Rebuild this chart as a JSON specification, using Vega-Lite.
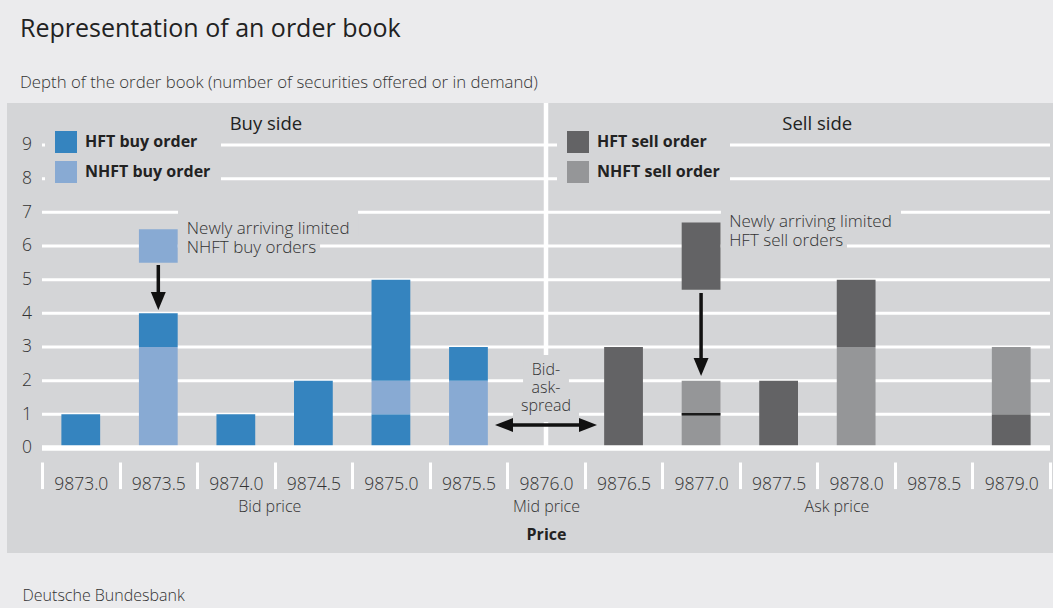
{
  "$schema": "https://vega.github.io/schema/vega-lite/v6.json",
  "width": 1046,
  "height": 450,
  "autosize": "none",
  "padding": {"left": 7, "top": 103, "right": 0, "bottom": 55},
  "background": "#ebebed",
  "config": {"view": {"fill": "#d4d5d7", "stroke": null}, "font": "Open Sans"},
  "title": {
    "text": "Representation of an order book",
    "subtitle": "Depth of the order book (number of securities offered or in demand)",
    "anchor": "start",
    "frame": "group",
    "offset": 8.5,
    "dx": 13,
    "font": "Open Sans",
    "fontSize": 25,
    "fontWeight": "normal",
    "color": "#222222",
    "subtitleFont": "Open Sans",
    "subtitleFontSize": 16.8,
    "subtitleFontWeight": 300,
    "subtitleColor": "#333333",
    "subtitlePadding": 33
  },
  "datasets": {
    "levels": [{"level": 0}, {"level": 1}, {"level": 2}, {"level": 3}, {"level": 4}, {"level": 5}, {"level": 6}, {"level": 7}, {"level": 8}, {"level": 9}],
    "book": [
      {"price": 9873.0, "side": "buy", "type": "HFT buy order", "qty": 1, "seq": 1},
      {"price": 9873.5, "side": "buy", "type": "NHFT buy order", "qty": 3, "seq": 1},
      {"price": 9873.5, "side": "buy", "type": "HFT buy order", "qty": 1, "seq": 2},
      {"price": 9874.0, "side": "buy", "type": "HFT buy order", "qty": 1, "seq": 1},
      {"price": 9874.5, "side": "buy", "type": "HFT buy order", "qty": 2, "seq": 1},
      {"price": 9875.0, "side": "buy", "type": "HFT buy order", "qty": 1, "seq": 1},
      {"price": 9875.0, "side": "buy", "type": "NHFT buy order", "qty": 1, "seq": 2},
      {"price": 9875.0, "side": "buy", "type": "HFT buy order", "qty": 3, "seq": 3},
      {"price": 9875.5, "side": "buy", "type": "NHFT buy order", "qty": 2, "seq": 1},
      {"price": 9875.5, "side": "buy", "type": "HFT buy order", "qty": 1, "seq": 2},
      {"price": 9876.5, "side": "sell", "type": "HFT sell order", "qty": 3, "seq": 1},
      {"price": 9877.0, "side": "sell", "type": "NHFT sell order", "qty": 1, "seq": 1},
      {"price": 9877.0, "side": "sell", "type": "NHFT sell order", "qty": 1, "seq": 2},
      {"price": 9877.5, "side": "sell", "type": "HFT sell order", "qty": 2, "seq": 1},
      {"price": 9878.0, "side": "sell", "type": "NHFT sell order", "qty": 3, "seq": 1},
      {"price": 9878.0, "side": "sell", "type": "HFT sell order", "qty": 2, "seq": 2},
      {"price": 9879.0, "side": "sell", "type": "HFT sell order", "qty": 1, "seq": 1},
      {"price": 9879.0, "side": "sell", "type": "NHFT sell order", "qty": 2, "seq": 2}
    ],
    "arriving": [
      {"price": 9873.5, "side": "buy", "type": "NHFT buy order", "from": 5.5, "to": 6.5},
      {"price": 9877.0, "side": "sell", "type": "HFT sell order", "from": 4.7, "to": 6.7}
    ],
    "boundaries": [{"price": 9877.0, "level": 1}],
    "mid": [{"price": 9876.0}],
    "masks": [
      {"x1": 9873.627, "x2": 9874.788, "y1": 7.129, "y2": 6.282},
      {"x1": 9873.627, "x2": 9874.543, "y1": 6.282, "y2": 5.644},
      {"x1": 9877.128, "x2": 9878.289, "y1": 7.218, "y2": 6.297},
      {"x1": 9877.128, "x2": 9877.941, "y1": 6.297, "y2": 5.673},
      {"x1": 9875.852, "x2": 9876.148, "y1": 2.762, "y2": 1.515},
      {"x1": 9875.787, "x2": 9876.213, "y1": 1.515, "y2": 0.772}
    ],
    "shafts": [
      {"x1": 9873.5, "x2": 9873.5, "y1": 5.436, "y2": 4.574},
      {"x1": 9877.0, "x2": 9877.0, "y1": 4.604, "y2": 2.614},
      {"x1": 9875.774, "x2": 9876.226, "y1": 0.683, "y2": 0.683}
    ],
    "heads": [
      {"x": 9873.5, "y": 4.099, "dir": "down"},
      {"x": 9877.0, "y": 2.139, "dir": "down"},
      {"x": 9875.671, "y": 0.683, "dir": "left"},
      {"x": 9876.329, "y": 0.683, "dir": "right"}
    ],
    "notes": [
      {"text": "Newly arriving limited\nNHFT buy orders", "x": 9873.684, "y": 6.347},
      {"text": "Newly arriving limited\nHFT sell orders", "x": 9877.181, "y": 6.573}
    ],
    "spread": [
      {"text": "Bid-\nask-\nspread", "x": 9876.0, "y": 2.168}
    ],
    "sides": [
      {"text": "Buy side", "x": 9874.194, "y": 9.445},
      {"text": "Sell side", "x": 9877.749, "y": 9.445}
    ]
  },
  "resolve": {"scale": {"color": "independent"}, "axis": {"x": "independent"}},
  "layer": [
    {
      "data": {"name": "levels"},
      "transform": [{"filter": "datum.level > 0"}],
      "mark": {"type": "rule", "color": "#ffffff", "strokeWidth": 3},
      "encoding": {
        "y": {"field": "level", "type": "quantitative", "scale": {"domain": [-3.1188, 10.2474], "nice": false, "zero": false},
          "axis": {"orient": "left", "offset": -35, "values": [0, 1, 2, 3, 4, 5, 6, 7, 8, 9], "domain": false, "ticks": false, "grid": false, "labelPadding": 10.5, "labelFont": "Open Sans", "labelFontSize": 17.5, "labelFontWeight": 300, "labelColor": "#333333", "labelOverlap": false, "labelFlush": false, "labelBound": false, "title": null}},
        "x": {"datum": 9872.75, "type": "quantitative", "scale": {"domain": [9872.52431, 9879.26935], "nice": false, "zero": false, "padding": 0}, "axis": null},
        "x2": {"datum": 9879.25}
      }
    },
    {
      "data": {"name": "mid"},
      "mark": {"type": "rule", "color": "#ffffff", "strokeWidth": 4.5},
      "encoding": {
        "x": {"field": "price", "type": "quantitative", "scale": {"domain": [9872.52431, 9879.26935], "nice": false, "zero": false, "padding": 0},
          "axis": {"orient": "bottom", "offset": -45, "values": [9874.216, 9876.0, 9877.873], "labelExpr": "datum.value < 9875 ? 'Bid price' : datum.value < 9877 ? 'Mid price' : 'Ask price'", "ticks": false, "domain": false, "grid": false, "labelPadding": 3.5, "labelBaseline": "alphabetic", "labelAlign": "center", "labelFont": "Open Sans", "labelFontSize": 16, "labelFontWeight": 300, "labelColor": "#333333", "labelFlush": false, "labelOverlap": false, "labelBound": false,
            "title": "Deutsche Bundesbank", "titleX": 15, "titleY": 92.5, "titleAlign": "left", "titleBaseline": "alphabetic", "titleFont": "Open Sans", "titleFontSize": 16, "titleFontWeight": 300, "titleColor": "#333333"}},
        "y": {"datum": 0, "type": "quantitative", "scale": {"domain": [-3.1188, 10.2474], "nice": false, "zero": false}},
        "y2": {"datum": 10.2474}
      }
    },
    {
      "data": {"name": "masks"},
      "mark": {"type": "rect", "color": "#d4d5d7"},
      "encoding": {
        "x": {"field": "x1", "type": "quantitative", "scale": {"domain": [9872.52431, 9879.26935], "nice": false, "zero": false, "padding": 0}, "axis": null},
        "x2": {"field": "x2"},
        "y": {"field": "y1", "type": "quantitative", "scale": {"domain": [-3.1188, 10.2474], "nice": false, "zero": false}},
        "y2": {"field": "y2"}
      }
    },
    {
      "data": {"name": "book"},
      "transform": [{"filter": "datum.side === 'buy'"}],
      "mark": {"type": "bar", "width": 38.77, "orient": "vertical"},
      "encoding": {
        "x": {"field": "price", "type": "quantitative", "scale": {"domain": [9872.52431, 9879.26935], "nice": false, "zero": false, "padding": 0},
          "axis": {"orient": "bottom", "offset": -91, "values": [9872.75, 9873.25, 9873.75, 9874.25, 9874.75, 9875.25, 9875.75, 9876.25, 9876.75, 9877.25, 9877.75, 9878.25, 9878.75, 9879.25], "labelExpr": "datum.value < 9879 ? format(datum.value + 0.25, '.1f') : ''", "labelOffset": 38.77, "tickSize": 26.6, "tickWidth": 3, "tickColor": "#ffffff", "domain": false, "grid": false, "labelPadding": 0.7, "labelBaseline": "alphabetic", "labelAlign": "center", "labelFont": "Open Sans", "labelFontSize": 17.5, "labelFontWeight": 300, "labelColor": "#333333", "labelFlush": false, "labelOverlap": false, "labelBound": false,
            "title": "Price", "titleX": 539, "titleY": 77.5, "titleAlign": "center", "titleBaseline": "alphabetic", "titleFont": "Open Sans", "titleFontSize": 16, "titleFontWeight": "bold", "titleColor": "#222222"}},
        "y": {"field": "qty", "type": "quantitative", "stack": "zero", "scale": {"domain": [-3.1188, 10.2474], "nice": false, "zero": false}},
        "color": {"field": "type", "type": "nominal", "scale": {"domain": ["HFT buy order", "NHFT buy order"], "range": ["#3584bf", "#88aad3"]},
          "legend": {"orient": "none", "legendX": 38, "legendY": 18, "direction": "vertical", "title": null, "padding": 10, "fillColor": "#d4d5d7", "symbolType": "square", "symbolSize": 484, "symbolStrokeWidth": 0, "symbolOpacity": 1, "labelFont": "Open Sans", "labelFontSize": 16, "labelFontWeight": "bold", "labelColor": "#222222", "labelOffset": 8, "rowPadding": 8, "labelLimit": 300}},
        "order": {"field": "seq", "type": "quantitative"}
      }
    },
    {
      "data": {"name": "book"},
      "transform": [{"filter": "datum.side === 'sell'"}],
      "mark": {"type": "bar", "width": 38.77, "orient": "vertical"},
      "encoding": {
        "x": {"field": "price", "type": "quantitative", "scale": {"domain": [9872.52431, 9879.26935], "nice": false, "zero": false, "padding": 0}, "axis": null},
        "y": {"field": "qty", "type": "quantitative", "stack": "zero", "scale": {"domain": [-3.1188, 10.2474], "nice": false, "zero": false}},
        "color": {"field": "type", "type": "nominal", "scale": {"domain": ["HFT sell order", "NHFT sell order"], "range": ["#636365", "#959698"]},
          "legend": {"orient": "none", "legendX": 550, "legendY": 18, "direction": "vertical", "title": null, "padding": 10, "fillColor": "#d4d5d7", "symbolType": "square", "symbolSize": 484, "symbolStrokeWidth": 0, "symbolOpacity": 1, "labelFont": "Open Sans", "labelFontSize": 16, "labelFontWeight": "bold", "labelColor": "#222222", "labelOffset": 8, "rowPadding": 8, "labelLimit": 300}},
        "order": {"field": "seq", "type": "quantitative"}
      }
    },
    {
      "data": {"name": "arriving"},
      "transform": [{"filter": "datum.side === 'buy'"}],
      "mark": {"type": "bar", "width": 38.77, "orient": "vertical", "color": "#88aad3"},
      "encoding": {
        "x": {"field": "price", "type": "quantitative", "scale": {"domain": [9872.52431, 9879.26935], "nice": false, "zero": false, "padding": 0}, "axis": null},
        "y": {"field": "from", "type": "quantitative", "scale": {"domain": [-3.1188, 10.2474], "nice": false, "zero": false}},
        "y2": {"field": "to"}
      }
    },
    {
      "data": {"name": "arriving"},
      "transform": [{"filter": "datum.side === 'sell'"}],
      "mark": {"type": "bar", "width": 38.77, "orient": "vertical", "color": "#636365"},
      "encoding": {
        "x": {"field": "price", "type": "quantitative", "scale": {"domain": [9872.52431, 9879.26935], "nice": false, "zero": false, "padding": 0}, "axis": null},
        "y": {"field": "from", "type": "quantitative", "scale": {"domain": [-3.1188, 10.2474], "nice": false, "zero": false}},
        "y2": {"field": "to"}
      }
    },
    {
      "data": {"name": "boundaries"},
      "mark": {"type": "tick", "orient": "horizontal", "size": 38.77, "thickness": 2.5, "color": "#1a1a1a", "opacity": 1},
      "encoding": {
        "x": {"field": "price", "type": "quantitative", "scale": {"domain": [9872.52431, 9879.26935], "nice": false, "zero": false, "padding": 0}, "axis": null},
        "y": {"field": "level", "type": "quantitative", "scale": {"domain": [-3.1188, 10.2474], "nice": false, "zero": false}}
      }
    },
    {
      "data": {"name": "levels"},
      "transform": [{"filter": "datum.level === 0"}],
      "mark": {"type": "rule", "color": "#ffffff", "strokeWidth": 5.5},
      "encoding": {
        "y": {"field": "level", "type": "quantitative", "scale": {"domain": [-3.1188, 10.2474], "nice": false, "zero": false}},
        "x": {"datum": 9872.75, "type": "quantitative", "scale": {"domain": [9872.52431, 9879.26935], "nice": false, "zero": false, "padding": 0}, "axis": null},
        "x2": {"datum": 9879.25}
      }
    },
    {
      "data": {"name": "shafts"},
      "mark": {"type": "rule", "color": "#111111", "strokeWidth": 3.5},
      "encoding": {
        "x": {"field": "x1", "type": "quantitative", "scale": {"domain": [9872.52431, 9879.26935], "nice": false, "zero": false, "padding": 0}, "axis": null},
        "x2": {"field": "x2"},
        "y": {"field": "y1", "type": "quantitative", "scale": {"domain": [-3.1188, 10.2474], "nice": false, "zero": false}},
        "y2": {"field": "y2"}
      }
    },
    {
      "data": {"name": "heads"},
      "mark": {"type": "point", "filled": true, "color": "#111111", "opacity": 1, "size": 324, "strokeWidth": 0},
      "encoding": {
        "x": {"field": "x", "type": "quantitative", "scale": {"domain": [9872.52431, 9879.26935], "nice": false, "zero": false, "padding": 0}, "axis": null},
        "y": {"field": "y", "type": "quantitative", "scale": {"domain": [-3.1188, 10.2474], "nice": false, "zero": false}},
        "shape": {"field": "dir", "type": "nominal", "scale": {"domain": ["down", "left", "right"], "range": ["M-0.83,-2L0.83,-2L0,0Z", "M0,0L2,-0.78L2,0.78Z", "M0,0L-2,-0.78L-2,0.78Z"]}, "legend": null}
      }
    },
    {
      "data": {"name": "notes"},
      "mark": {"type": "text", "align": "left", "baseline": "alphabetic", "lineBreak": "\n", "lineHeight": 19.1, "font": "Open Sans", "fontSize": 17, "fontWeight": 300, "color": "#333333"},
      "encoding": {
        "x": {"field": "x", "type": "quantitative", "scale": {"domain": [9872.52431, 9879.26935], "nice": false, "zero": false, "padding": 0}, "axis": null},
        "y": {"field": "y", "type": "quantitative", "scale": {"domain": [-3.1188, 10.2474], "nice": false, "zero": false}},
        "text": {"field": "text"}
      }
    },
    {
      "data": {"name": "spread"},
      "mark": {"type": "text", "align": "center", "baseline": "alphabetic", "lineBreak": "\n", "lineHeight": 17.9, "font": "Open Sans", "fontSize": 16, "fontWeight": 300, "color": "#333333"},
      "encoding": {
        "x": {"field": "x", "type": "quantitative", "scale": {"domain": [9872.52431, 9879.26935], "nice": false, "zero": false, "padding": 0}, "axis": null},
        "y": {"field": "y", "type": "quantitative", "scale": {"domain": [-3.1188, 10.2474], "nice": false, "zero": false}},
        "text": {"field": "text"}
      }
    },
    {
      "data": {"name": "sides"},
      "mark": {"type": "text", "align": "center", "baseline": "alphabetic", "font": "Open Sans", "fontSize": 18.5, "fontWeight": "normal", "color": "#222222"},
      "encoding": {
        "x": {"field": "x", "type": "quantitative", "scale": {"domain": [9872.52431, 9879.26935], "nice": false, "zero": false, "padding": 0}, "axis": null},
        "y": {"field": "y", "type": "quantitative", "scale": {"domain": [-3.1188, 10.2474], "nice": false, "zero": false}},
        "text": {"field": "text"}
      }
    }
  ]
}
